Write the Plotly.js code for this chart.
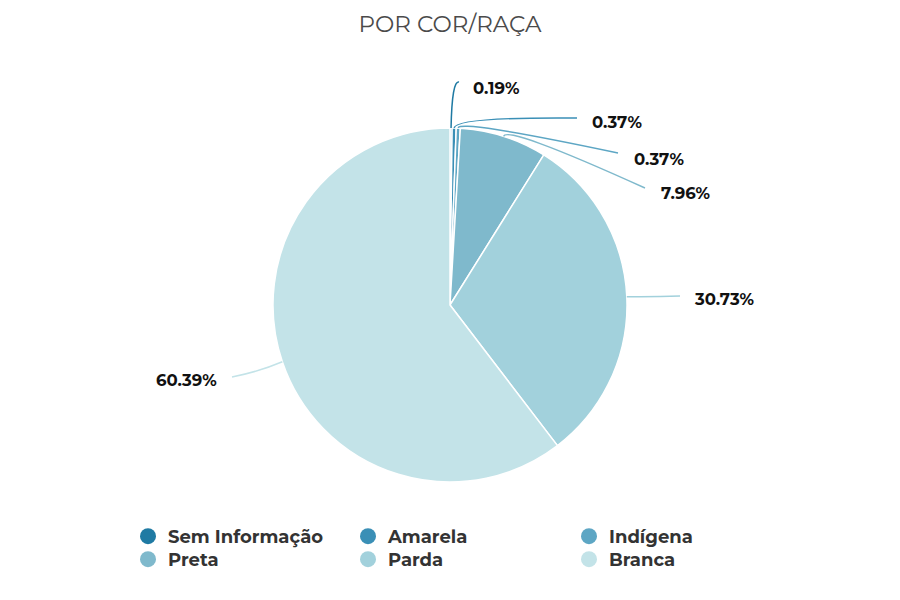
<!DOCTYPE html>
<html><head><meta charset="utf-8">
<script src="https://cdn.plot.ly/plotly-3.0.1.min.js"></script>
<style>html,body{margin:0;padding:0;background:#fff}#chart{width:900px;height:600px}</style>
</head><body><div id="chart"></div>
<script>
const categories = ["Sem Informação", "Amarela", "Indígena", "Preta", "Parda", "Branca"];
const values = [0.19, 0.37, 0.37, 7.96, 30.73, 60.39];
const labels = ["0.19%", "0.37%", "0.37%", "7.96%", "30.73%", "60.39%"];
const colors = ["#1f7aa3", "#3a8fb6", "#5da6c4", "#7fb9cc", "#a2d1dc", "#c3e3e8"];

const W = 900, H = 600, CX = 450, CY = 305, R = 177;
// layout of labels and leader lines (px)
const labelPos = [[497, 88], [617, 122], [659, 159], [685, 193], [724, 299], [186, 380]];
const leaderCtrl = [[452, 80], [455, 117], [457, 119], [506, 125], [655, 297], [258, 372]];
const leaderEnd = [[459, 82], [577, 118], [618, 153], [645, 188], [680, 296], [232, 377]];
// legend grid: 3 columns x 2 rows (px)
const legendColX = [128, 348, 569];
const legendRowTop = [518, 541];

const FONT = "Montserrat, 'Open Sans', 'DejaVu Sans', sans-serif";
const legendIds = categories.map((c, i) => i === 0 ? "legend" : "legend" + (i + 1));

const pie = {
  type: "pie", labels: categories, values: values, sort: false, direction: "clockwise", rotation: 0,
  marker: {colors: colors, line: {color: "#ffffff", width: 1.5}},
  textinfo: "none", hoverinfo: "label+percent", showlegend: false,
  domain: {x: [(CX - R) / W, (CX + R) / W], y: [1 - (CY + R) / H, 1 - (CY - R) / H]}
};

const legendTraces = categories.map((c, i) => ({
  type: "scatter", mode: "markers", x: [null], y: [null], name: c,
  legend: legendIds[i],
  marker: {color: colors[i], size: 17, symbol: "circle"}, showlegend: true, hoverinfo: "skip"
}));

const fx = px => px / W, fy = py => 1 - py / H;
const total = values.reduce((a, b) => a + b, 0);
let cum = 0;
const annotations = [], shapes = [];
values.forEach((v, i) => {
  const mid = (cum + v / 2) / total * 2 * Math.PI;
  cum += v;
  const px = CX + R * Math.sin(mid), py = CY - R * Math.cos(mid);
  const c = leaderCtrl[i], e = leaderEnd[i];
  shapes.push({
    type: "path", xref: "paper", yref: "paper",
    path: `M ${fx(px)} ${fy(py)} Q ${fx(c[0])} ${fy(c[1])} ${fx(e[0])} ${fy(e[1])}`,
    line: {color: colors[i], width: 1.5}
  });
  annotations.push({
    xref: "paper", yref: "paper", x: fx(labelPos[i][0]), y: fy(labelPos[i][1]),
    xanchor: "center", yanchor: "middle",
    text: "<b>" + labels[i] + "</b>", showarrow: false,
    font: {family: FONT, size: 16.5, color: "#111111"}
  });
});

const layout = {
  width: W, height: H, paper_bgcolor: "#ffffff", plot_bgcolor: "#ffffff",
  margin: {l: 0, r: 0, t: 0, b: 0},
  title: {text: "POR COR/RAÇA", x: 0.5, xanchor: "center", y: 1 - 24 / H, yanchor: "middle",
    font: {family: FONT, size: 23, color: "#4a4a4a"}},
  xaxis: {visible: false}, yaxis: {visible: false},
  showlegend: true,
  annotations: annotations,
  shapes: shapes
};
legendIds.forEach((id, i) => {
  layout[id] = {
    orientation: "v", xanchor: "left", yanchor: "top",
    x: fx(legendColX[i % 3]), y: fy(legendRowTop[Math.floor(i / 3)]),
    itemclick: false, bgcolor: "rgba(0,0,0,0)",
    font: {family: FONT, size: 18, color: "#333333", weight: "bold"}
  };
});

Plotly.newPlot("chart", [pie].concat(legendTraces), layout, {displayModeBar: false, staticPlot: true});
</script></body></html>
